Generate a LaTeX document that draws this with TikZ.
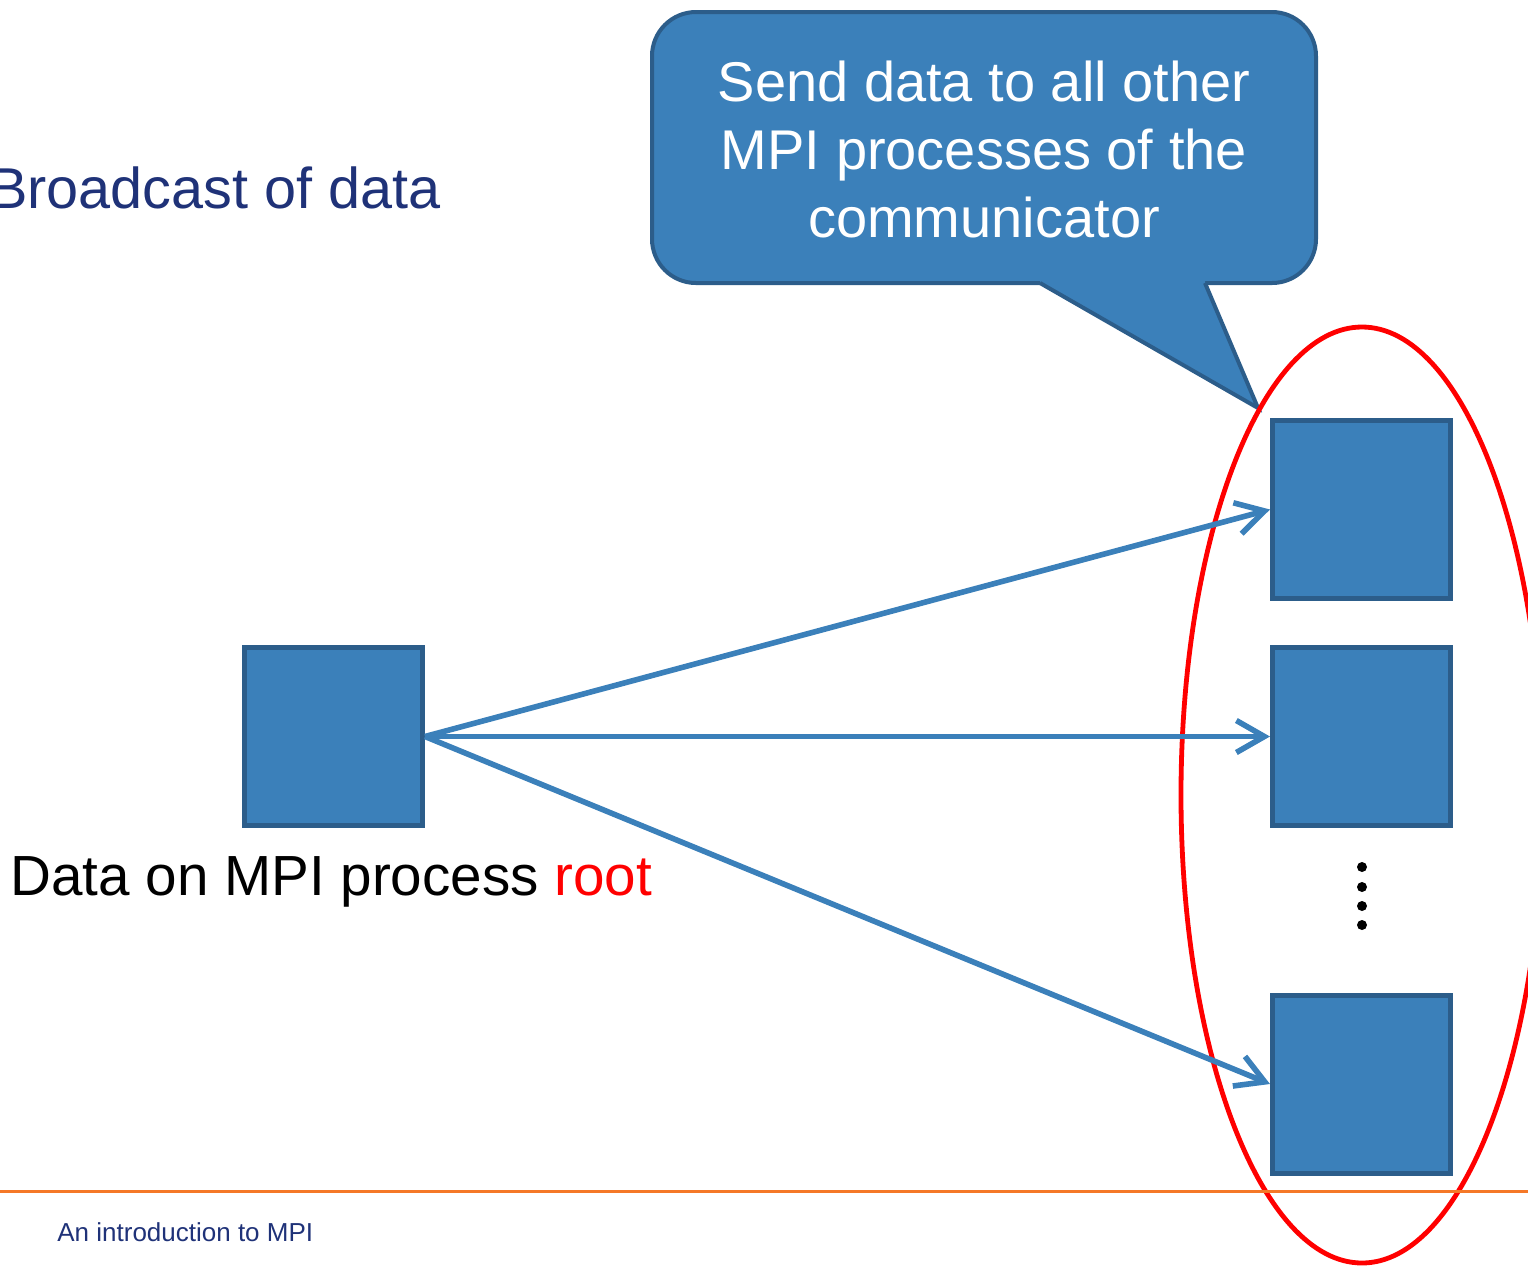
\documentclass[tikz,border=0pt]{standalone}
\usepackage{fontspec}
\setmainfont{Liberation Sans}
\usetikzlibrary{arrows.meta}
\definecolor{boxblue}{RGB}{59,128,186}
\definecolor{boxedge}{RGB}{44,93,138}
\definecolor{navy}{RGB}{31,50,120}
\definecolor{orangeline}{RGB}{245,120,40}
\tikzset{
  procbox/.style={draw=boxedge, fill=boxblue, line width=2.5pt, minimum width=89pt, minimum height=89pt, inner sep=0pt},
  sendarrow/.style={draw=boxblue, line width=2.8pt, -{Straight Barb[length=14pt,width=16pt]}},
  bigtext/.style={font=\fontsize{28pt}{34pt}\selectfont, inner sep=0pt},
}
\begin{document}
\begin{tikzpicture}[x=0.5pt,y=-0.5pt]
\useasboundingbox (0,0) rectangle (1528,1266);
\clip (0,0) rectangle (1528,1266);
% title
\node[text=navy, anchor=base east, inner sep=0pt, font=\fontsize{28.8pt}{34pt}\selectfont] (title) at (441,208) {Broadcast of data};
% callout box
\node[draw=boxedge, fill=boxblue, line width=2pt, rounded corners=22pt, minimum width=332pt, minimum height=135.5pt] (callout) at (984,147.5) {};
\fill[boxblue] (1040,283) -- (1258,408) -- (1205,283) -- (1205,276) -- (1040,276) -- cycle;
\draw[boxedge, line width=2pt, line join=miter] (1040,283) -- (1258,408) -- (1205,283);
\node[bigtext, text=white, align=center] (callouttext) at (984,149) {Send data to all other\\MPI processes of the\\communicator};
% red ellipse
\draw[red, line width=2.4pt] (1362,795) ellipse [x radius=90.5pt, y radius=234pt];
% boxes
\node[procbox] (src) at (333.5,736.5) {};
\node[procbox] (t1) at (1361.5,509.5) {};
\node[procbox] (t2) at (1361.5,736.5) {};
\node[procbox] (t3) at (1361.5,1084) {};
% arrows
\draw[sendarrow] (src.east) -- (t1.west);
\draw[sendarrow] (src.east) -- (t2.west);
\draw[sendarrow] (src.east) -- (t3.west);
% dots
\foreach \yy in {867,887,906,925} \fill (1362,\yy) circle [radius=2.5pt];
% label
\node[anchor=base west, inner sep=0pt, font=\fontsize{28.3pt}{34pt}\selectfont] (label) at (10,895) {Data on MPI process \textcolor{red}{root}};
% footer
\draw[orangeline, line width=1.5pt] (0,1191) -- (1528,1191);
\node[anchor=base west, text=navy, font=\fontsize{13pt}{15pt}\selectfont, inner sep=0pt] (footer) at (57,1241) {An introduction to MPI};
\end{tikzpicture}
\end{document}
